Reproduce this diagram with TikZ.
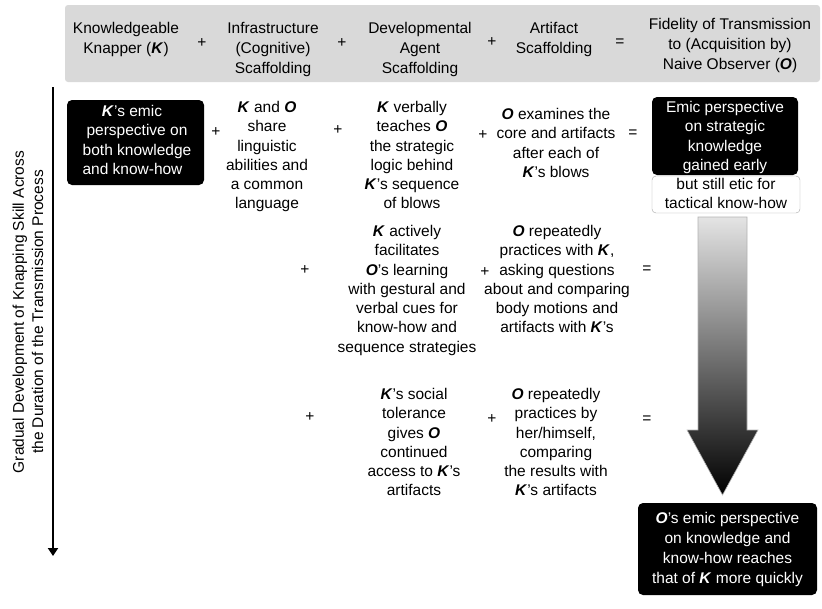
\documentclass[tikz,border=0pt]{standalone}
\usepackage{fontspec}
\setmainfont{Liberation Sans}
\usetikzlibrary{arrows.meta}
\newcommand\Kk{\textbf{\textit{K}}}
\newcommand\Oo{\textbf{\textit{O}}}
\definecolor{headgray}{RGB}{217,217,217}
\definecolor{shadetop}{RGB}{228,228,228}
\definecolor{shademid}{RGB}{105,105,105}
\begin{document}
\begin{tikzpicture}[x=1pt,y=-1pt,
  txt/.style={align=center, inner sep=0pt, font=\fontsize{15.5}{19.3}\selectfont},
  htxt/.style={txt, font=\fontsize{15.5}{20}\selectfont, anchor=north},
  op/.style={inner sep=0pt, font=\fontsize{15.5}{19}\selectfont},
  blackbox/.style={fill=black, rounded corners=5pt, inner sep=0pt},
  wtxt/.style={txt, text=white, anchor=north},
  ctxt/.style={txt, anchor=north}]
\useasboundingbox (0,0) rectangle (822,608);

% header band
\node[fill=headgray, rounded corners=3pt, minimum width=755pt, minimum height=77pt, inner sep=0pt] (header) at (442.5,43.5) {};
\node[htxt] (h1) at (126,22) {Knowledgeable\\Knapper (\Kk)};
\node[op] (hp1) at (202,43) {+};
\node[htxt] (h2) at (273,22) {Infrastructure\\(Cognitive)\\Scaffolding};
\node[op] (hp2) at (342,43) {+};
\node[htxt] (h3) at (420,22) {Developmental\\Agent\\Scaffolding};
\node[op] (hp3) at (492,42) {+};
\node[htxt] (h4) at (554,22) {Artifact\\Scaffolding};
\node[op] (heq) at (620,43) {=};
\node[htxt] (h5) at (730,18) {Fidelity of Transmission\\to (Acquisition by)\\Naive Observer (\Oo)};

% time axis
\coordinate (tstart) at (53,87);
\coordinate (tend) at (53,556);
\draw[line width=2.8pt, -{Triangle[width=10pt,length=8pt]}] (tstart) -- (tend);
\node[txt, rotate=90] (timelabel) at (28,312) {Gradual Development of Knapping Skill Across\\the Duration of the Transmission Process};

% row 1
\node[blackbox, minimum width=137pt, minimum height=85pt] (kbox) at (135.5,142.5) {};
\node[wtxt] (ktxt) at (137,105) {\Kk's emic\hspace*{10pt}\\perspective on\\both knowledge\\and know-how\hspace*{9pt}};
\node[op] (r1p1) at (216,132) {+};
\node[ctxt] (r1c2) at (267,101) {\Kk{} and \Oo\\share\\linguistic\\abilities and\\a common\\language};
\node[op] (r1p2) at (338,130) {+};
\node[ctxt] (r1c3) at (412,101) {\Kk{} verbally\\teaches \Oo\\the strategic\\logic behind\\\Kk's sequence\\of blows};
\node[op] (r1p3) at (483,135) {+};
\node[ctxt] (r1c4) at (556,108) {\Oo{} examines the\\core and artifacts\\after each of\\\Kk's blows};
\node[op] (r1eq) at (633,134) {=};
\node[blackbox, minimum width=146pt, minimum height=78pt] (emic) at (725,136) {};
\node[wtxt] (emictxt) at (725,101) {Emic perspective\\on strategic\\knowledge\\gained early};
\node[draw=gray!70, fill=white, rounded corners=4pt, minimum width=148pt, minimum height=37pt, inner sep=0pt] (etic) at (726,194.5) {};
\node[ctxt] (etictxt) at (726,178) {but still etic for\\tactical know-how};

% shaded progress arrow
\shade[top color=shadetop, middle color=shademid, bottom color=black, draw=gray!60, line width=0.6pt]
  (698,217) -- (747,217) -- (747,430) -- (758,430) -- (722.5,495) -- (687,430) -- (698,430) -- cycle;

% row 2
\node[op] (r2p1) at (305,270) {+};
\node[ctxt] (r2c3) at (407,225) {\Kk{} actively\\facilitates\\\Oo's learning\\with gestural and\\verbal cues for\\know-how and\\sequence strategies};
\node[op] (r2p2) at (485,272) {+};
\node[ctxt] (r2c4) at (557,225) {\Oo{} repeatedly\\practices with \Kk,\\asking questions\\about and comparing\\body motions and\\artifacts with \Kk's};
\node[op] (r2eq) at (647,270) {=};

% row 3
\node[op] (r3p1) at (310,417) {+};
\node[ctxt] (r3c3) at (414,388) {\Kk's social\\tolerance\\gives \Oo\\continued\\access to \Kk's\\artifacts};
\node[op] (r3p2) at (492,419) {+};
\node[ctxt] (r3c4) at (556,388) {\Oo{} repeatedly\\practices by\\her/himself,\\comparing\\the results with\\\Kk's artifacts};
\node[op] (r3eq) at (647,420) {=};

% outcome
\node[blackbox, minimum width=179pt, minimum height=92pt] (final) at (727.5,549) {};
\node[wtxt, font=\fontsize{15.5}{20}\selectfont] (finaltxt) at (727.5,512) {\Oo's emic perspective\\on knowledge and\\know-how reaches\\that of \Kk{} more quickly};
\end{tikzpicture}
\end{document}
